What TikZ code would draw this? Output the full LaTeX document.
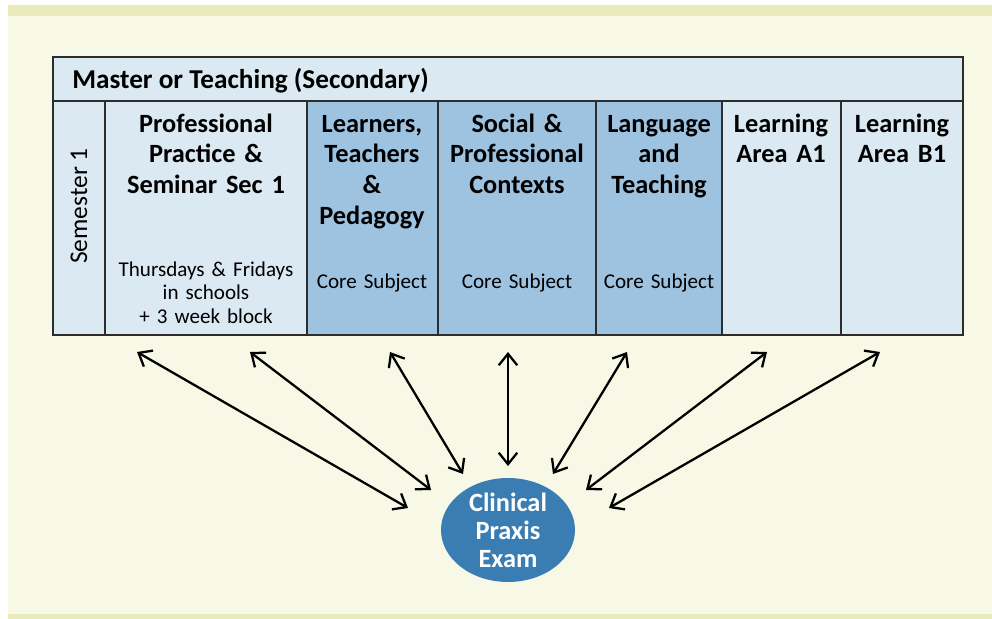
\documentclass[tikz,border=0pt]{standalone}
\usepackage{fontspec}
\setmainfont{Carlito}
\usepackage{tikz}
\usetikzlibrary{arrows.meta}
\usetikzlibrary{shapes.geometric}

\definecolor{creambg}{RGB}{248,248,230}
\definecolor{stripbg}{RGB}{233,236,186}
\definecolor{lightcell}{RGB}{219,233,242}
\definecolor{darkcell}{RGB}{158,195,225}
\definecolor{examblue}{RGB}{58,125,178}
\definecolor{gridline}{RGB}{45,45,45}

\begin{document}
\begin{tikzpicture}[x=0.02cm, y=-0.02cm,
    cell/.style={draw=gridline, line width=1pt},
    head/.style={font=\bfseries\fontsize{15}{17.6}\selectfont, text width=3.8cm, align=center, anchor=base, inner sep=0pt},
    note/.style={font=\fontsize{12}{13.6}\selectfont, text width=3.8cm, align=center, anchor=base, inner sep=0pt},
    link/.style={{Straight Barb[length=6.5pt,width=10.5pt]}-{Straight Barb[length=6.5pt,width=10.5pt]}, line width=1.3pt}]
        % page
        \useasboundingbox (0,0) rectangle (992,619);
        \fill[white] (0,0) rectangle (992,619);
        \fill[creambg] (8,5) rectangle (992,619);
        \fill[stripbg] (8,5) rectangle (992,16);
        \fill[stripbg] (8,614) rectangle (992,619);

        % table
        \filldraw[cell, fill=lightcell] (53,57) rectangle (963,101);
        \filldraw[cell, fill=lightcell] (53,101) rectangle (105,335);
        \filldraw[cell, fill=lightcell] (105,101) rectangle (307,335);
        \filldraw[cell, fill=darkcell] (307,101) rectangle (438,335);
        \filldraw[cell, fill=darkcell] (438,101) rectangle (596,335);
        \filldraw[cell, fill=darkcell] (596,101) rectangle (722,335);
        \filldraw[cell, fill=lightcell] (722,101) rectangle (841,335);
        \filldraw[cell, fill=lightcell] (841,101) rectangle (963,335);

        \node[font=\bfseries\fontsize{15.5}{18}\selectfont, anchor=base west, inner sep=0pt] (title) at (72,88) {Master or Teaching (Secondary)};
        \node[font=\fontsize{14.5}{17}\selectfont, rotate=90, inner sep=0pt] (sem) at (79,206) {Semester 1};

        \node[head] (prac) at (206,132) {Professional\\Practice \&\\Seminar Sec 1};
        \node[note] (pracnote) at (206,276) {Thursdays \& Fridays\\in schools\\+ 3 week block};
        \node[head] (learn) at (372,132) {Learners,\\Teachers\\\&\\Pedagogy};
        \node[note] (learnnote) at (372,288) {Core Subject};
        \node[head] (social) at (517,132) {Social \&\\Professional\\Contexts};
        \node[note] (socialnote) at (517,288) {Core Subject};
        \node[head] (lang) at (659,132) {Language\\and\\Teaching};
        \node[note] (langnote) at (659,288) {Core Subject};
        \node[head] (areaA) at (781,132) {Learning\\Area A1};
        \node[head] (areaB) at (902,132) {Learning\\Area B1};

        % exam
        \node[ellipse, fill=examblue, minimum width=2.68cm, minimum height=2.08cm, inner sep=0pt] (exam) at (508,530) {};
        \node[font=\bfseries\fontsize{15}{16}\selectfont, text=white, text width=2cm, align=center, anchor=base, inner sep=0pt] (examtext) at (508,511) {Clinical\\Praxis\\Exam};

        % arrows
        \coordinate (t1) at (137,352); \coordinate (e1) at (408,508);
        \coordinate (t2) at (250,352); \coordinate (e2) at (431,490);
        \coordinate (t3) at (390,352); \coordinate (e3) at (463,474);
        \coordinate (t4) at (508,352); \coordinate (e4) at (508,466);
        \coordinate (t5) at (627,352); \coordinate (e5) at (553,474);
        \coordinate (t6) at (767,352); \coordinate (e6) at (586,490);
        \coordinate (t7) at (880,352); \coordinate (e7) at (609,508);
        \draw[link] (t1) -- (e1);
        \draw[link] (t2) -- (e2);
        \draw[link] (t3) -- (e3);
        \draw[link] (t4) -- (e4);
        \draw[link] (t5) -- (e5);
        \draw[link] (t6) -- (e6);
        \draw[link] (t7) -- (e7);
\end{tikzpicture}
\end{document}
